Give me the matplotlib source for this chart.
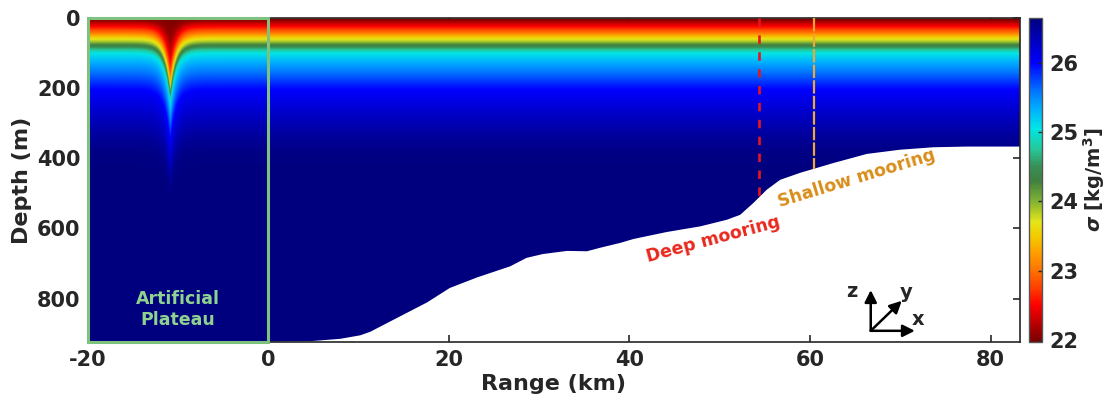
import numpy as np
import matplotlib
matplotlib.use("Agg")
import matplotlib.pyplot as plt
from matplotlib.colors import LinearSegmentedColormap
from matplotlib.patches import Rectangle, Polygon

plt.rcParams['font.family'] = ['DejaVu Sans']
plt.rcParams['font.weight'] = 'bold'
plt.rcParams['mathtext.default'] = 'regular'
plt.rcParams['axes.unicode_minus'] = False

# ---- background stratification (sigma vs depth away from the eddy) ----
sigma_levels = [21.98, 22.1, 22.3, 22.55, 22.85, 23.05, 23.35, 23.65, 23.9, 24.3,
                24.75, 25.05, 25.35, 25.6, 26.0, 26.3, 26.5, 26.6, 26.64, 26.65]
depth_far = [0, 8, 15, 25, 35, 42, 50, 58, 67, 76,
             90, 100, 127, 156, 204, 281, 338, 380, 450, 923]
# isopycnal depths in the eddy core
depth_core = [0, 60, 100, 130, 155, 166, 180, 193, 203, 215,
              232, 246, 275, 304, 350, 420, 470, 500, 540, 923]
eddy_center_km = -10.9
eddy_scale_km = 0.65

# ---- bathymetry (range km, depth m) ----
bathy_km = [0, 4.6, 8, 10.2, 11.3, 14.6, 17.6, 20.1, 23.1, 26.8, 28.6, 30.4, 33.1,
            35.3, 36.76, 39.0, 40.44, 44.14, 47.83, 50.79, 52.26, 53.73, 55.22,
            56.69, 58.9, 62.59, 66.29, 69.97, 73.63, 77.36, 83.3]
bathy_m = [923, 922, 915, 905, 895, 851, 811, 770, 740, 708, 684, 673, 664,
           665, 655, 641, 630, 610, 594, 575, 561, 527, 489,
           461, 441, 413, 387, 375, 368, 366, 366]

# ---- moorings ----
deep_mooring_km = 54.4
shallow_mooring_km = 60.4

# ---- colormap stops ----
cmap_values = [21.975, 22.0, 22.25, 22.5, 22.75, 23.0, 23.25, 23.5, 23.7, 24.0, 24.3,
               24.5, 24.75, 25.05, 25.35, 25.6, 26.0, 26.64]
cmap_colors = [(0.5, 0, 0), (0.5, 0, 0), (0.75, 0, 0), (1, 0, 0), (1, 0.25, 0),
               (1, 0.45, 0), (1, 0.62, 0), (0.95, 0.8, 0), (0.9, 0.9, 0.1),
               (0.5, 0.7, 0.2), (0.25, 0.5, 0.25), (0.22, 0.56, 0.33),
               (0.15, 0.78, 0.6), (0, 0.9, 0.9), (0, 0.68, 1), (0, 0.45, 1),
               (0, 0, 1), (0, 0, 0.5)]
vmin, vmax = cmap_values[0], cmap_values[-1]
cmap = LinearSegmentedColormap.from_list(
    "sigma_map",
    list(zip([(v - vmin) / (vmax - vmin) for v in cmap_values], cmap_colors)))

xmin, xmax = -20, 83.3
zmax = 923

# density section
xg = np.linspace(xmin, xmax, 2400)
zg = np.linspace(0, zmax, 1000)
far = np.array(depth_far, float)
core = np.array(depth_core, float)
field = np.empty((zg.size, xg.size))
for j, x in enumerate(xg):
    w = np.exp(-abs(x - eddy_center_km) / eddy_scale_km)
    iso = far + (core - far) * w
    field[:, j] = np.interp(zg, iso, sigma_levels)

fig = plt.figure(figsize=(11.12, 4.0), dpi=100)
ax = fig.add_axes([0.0787, 0.146, 0.8390, 0.808])
cax = fig.add_axes([0.9254, 0.146, 0.0117, 0.808])

im = ax.imshow(field, extent=[xmin, xmax, zmax, 0], origin='upper', aspect='auto',
               cmap=cmap, vmin=vmin, vmax=vmax, interpolation='bilinear', zorder=1)
water = [(xmin, 0), (xmax, 0)] + [(x, z) for x, z in zip(bathy_km[::-1], bathy_m[::-1])] \
        + [(0, zmax), (xmin, zmax)]
clip = Polygon(water, closed=True, transform=ax.transData, facecolor='none', edgecolor='none')
ax.add_patch(clip)
im.set_clip_path(clip)

# mooring lines
deep_bottom = np.interp(deep_mooring_km, bathy_km, bathy_m)
shallow_bottom = np.interp(shallow_mooring_km, bathy_km, bathy_m)
ax.plot([deep_mooring_km, deep_mooring_km], [0, deep_bottom], color='#e8141e',
        lw=1.9, dashes=(3.2, 3.2), zorder=3)
ax.plot([shallow_mooring_km, shallow_mooring_km], [0, shallow_bottom], color='#efa836',
        lw=1.6, dashes=(6, 1), zorder=3)
ax.text(49.3, 632, 'Deep mooring', color='#e8281e', fontsize=12.5, fontweight='bold',
        rotation=15, ha='center', va='center', rotation_mode='anchor', zorder=4)
ax.text(65.2, 458, 'Shallow mooring', color='#d98e1a', fontsize=12.5, fontweight='bold',
        rotation=17, ha='center', va='center', rotation_mode='anchor', zorder=4)

# artificial plateau box
ax.add_patch(Rectangle((-20, 0), 20, zmax, fill=False, edgecolor='#7fc27f', lw=2.2,
                       zorder=3, clip_on=False))
ax.text(-10, 832, 'Artificial\nPlateau', color='#8fd18f', fontsize=12.5, fontweight='bold',
        ha='center', va='center', linespacing=1.25, zorder=4)

# coordinate icon
ox, oy = 0.8395, 0.0334
arrow = dict(arrowstyle='-|>', color='black', lw=1.8, mutation_scale=18, shrinkA=0, shrinkB=0)
ax.annotate('', xy=(ox, 0.1594), xytext=(ox, oy), xycoords='axes fraction', arrowprops=arrow, zorder=5)
ax.annotate('', xy=(0.8868, oy), xytext=(ox, oy), xycoords='axes fraction', arrowprops=arrow, zorder=5)
ax.annotate('', xy=(0.8728, 0.1263), xytext=(ox, oy), xycoords='axes fraction', arrowprops=arrow, zorder=5)
ax.text(0.8187, 0.156, 'z', transform=ax.transAxes, fontsize=14, fontweight='bold',
        ha='center', va='center', color='#262626')
ax.text(0.8775, 0.153, 'y', transform=ax.transAxes, fontsize=14, fontweight='bold',
        ha='center', va='center', color='#262626')
ax.text(0.8905, 0.069, 'x', transform=ax.transAxes, fontsize=14, fontweight='bold',
        ha='center', va='center', color='#262626')

ax.set_xlim(xmin, xmax)
ax.set_ylim(zmax, 0)
ax.set_xticks([-20, 0, 20, 40, 60, 80])
ax.set_yticks([0, 200, 400, 600, 800])
ax.set_axisbelow(True)
ax.tick_params(direction='in', length=5, width=1.2, colors='#262626', labelsize=15,
               top=True, right=True)
ax.tick_params(axis='y', pad=5)
ax.tick_params(axis='x', pad=6)
for lab in ax.get_xticklabels() + ax.get_yticklabels():
    lab.set_fontweight('bold')
for s in ax.spines.values():
    s.set_color('#262626')
    s.set_linewidth(1.2)
    s.set_zorder(2.5)
ax.set_xlabel('Range (km)', fontsize=16, fontweight='bold', color='#262626', labelpad=3)
ax.set_ylabel('Depth (m)', fontsize=16, fontweight='bold', color='#262626', labelpad=4)

cb = fig.colorbar(im, cax=cax)
cb.set_ticks([22, 23, 24, 25, 26])
cb.ax.tick_params(direction='in', length=3, width=1, colors='#262626', labelsize=15, pad=5)
for lab in cb.ax.get_yticklabels():
    lab.set_fontweight('bold')
cb.outline.set_edgecolor('#555555')
cb.outline.set_linewidth(1)
cb.set_label(r'$\mathit{\sigma}$ [kg/m$^{\mathbf{3}}$]', fontsize=14, fontweight='bold',
             color='#262626', labelpad=2)

fig.savefig('out.png', dpi=100)
